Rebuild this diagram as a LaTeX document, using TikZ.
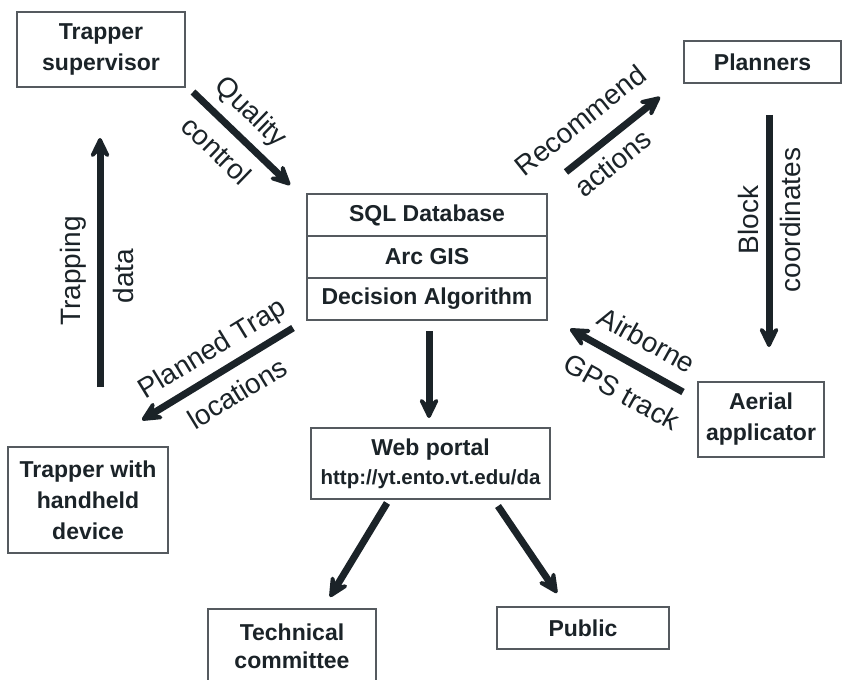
\documentclass[tikz,border=0pt]{standalone}
\usepackage{fontspec}
\setmainfont{Liberation Sans}
\usetikzlibrary{arrows.meta}
\definecolor{ink}{RGB}{27,35,40}
\definecolor{frame}{RGB}{85,90,95}
\begin{document}
\begin{tikzpicture}[x=1pt,y=-1pt,
  box/.style={draw=frame,line width=1.1pt,text=ink,font=\fontsize{23}{31}\selectfont\bfseries,align=center,inner sep=0pt},
  flow/.style={draw=ink,line width=7pt,-{Stealth[length=28pt,width=27pt,inset=13pt,round]}},
  lbl/.style={text=ink,font=\fontsize{28}{34}\selectfont,inner sep=0pt}]
\useasboundingbox (0,0) rectangle (842,679);
\fill[white] (0,0) rectangle (842,679);
% boxes
\node[box,minimum width=168pt,minimum height=75pt] (ts) at (101,49.5) {Trapper\\supervisor};
\node[box,minimum width=157pt,minimum height=42pt] (pl) at (762.5,62) {Planners};
\node[box,minimum width=240pt,minimum height=42pt] (db1) at (427,215) {SQL Database};
\node[box,minimum width=240pt,minimum height=42pt] (db2) at (427,257) {Arc GIS};
\node[box,minimum width=240pt,minimum height=42pt] (db3) at (427,299) {Decision Algorithm};
\node[box,minimum width=160pt,minimum height=106pt] (th) at (88,500) {Trapper with\\handheld\\device};
\node[box,minimum width=126pt,minimum height=75pt] (aa) at (761,419.5) {Aerial\\applicator};
\node[box,minimum width=239pt,minimum height=71pt] (wp) at (430.5,463.5) {Web portal\\[-2pt]{\fontsize{20.5}{26}\selectfont http://yt.ento.vt.edu/da}};
\node[box,minimum width=168pt,minimum height=74pt] (tc) at (292,646) {Technical\\[-3pt]committee};
\node[box,minimum width=172pt,minimum height=42pt] (pu) at (583,628) {Public};
% arrow ends
\coordinate (q1) at (193,92);   \coordinate (q2) at (290,185);
\coordinate (t1) at (100,387);  \coordinate (t2) at (100,138);
\coordinate (p1) at (293,328);  \coordinate (p2) at (142,420);
\coordinate (r1) at (566,172);  \coordinate (r2) at (660,97);
\coordinate (b1) at (769,115);  \coordinate (b2) at (769,347);
\coordinate (a1) at (683,392);  \coordinate (a2) at (570,329);
\coordinate (d1) at (429,331);  \coordinate (d2) at (429,418);
\coordinate (w1) at (387,503);  \coordinate (w2) at (330,597);
\coordinate (v1) at (498,506);  \coordinate (v2) at (557,593);
\draw[flow] (q1) -- (q2);
\draw[flow] (t1) -- (t2);
\draw[flow] (p1) -- (p2);
\draw[flow] (r1) -- (r2);
\draw[flow] (b1) -- (b2);
\draw[flow] (a1) -- (a2);
\draw[flow] (d1) -- (d2);
\draw[flow] (w1) -- (w2);
\draw[flow] (v1) -- (v2);
% labels
\node[lbl,rotate=-44] (lq) at (250,113) {Quality};
\node[lbl,rotate=-44] (lc) at (217,150) {control};
\node[lbl,rotate=38.6] (lr) at (580,120) {Recommend};
\node[lbl,rotate=38.6] (la) at (613,163) {actions};
\node[lbl,rotate=90] (lt) at (73,271) {Trapping};
\node[lbl,rotate=90] (ld) at (123,276) {data};
\node[lbl,rotate=31.4] (lp) at (213,350) {Planned Trap};
\node[lbl,rotate=31.4] (ll) at (237,393) {locations};
\node[lbl,rotate=90] (lb) at (748,220) {Block};
\node[lbl,rotate=90] (lco) at (790,220) {coordinates};
\node[lbl,rotate=-29] (lai) at (647,340) {Airborne};
\node[lbl,rotate=-29] (lg) at (622,392) {GPS track};
\end{tikzpicture}
\end{document}
